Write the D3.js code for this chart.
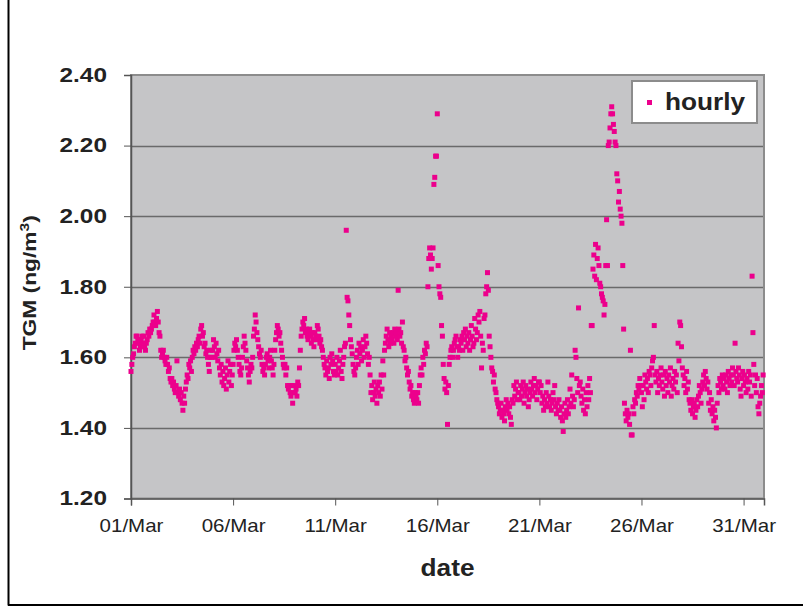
<!DOCTYPE html>
<html>
<head>
<meta charset="utf-8">
<script src="https://cdn.jsdelivr.net/npm/d3@7"></script>
<style>
  html, body { margin: 0; padding: 0; background: #ffffff; }
  svg { display: block; font-family: "Liberation Sans", Arial, Helvetica, sans-serif; }
</style>
</head>
<body>
<svg id="chart" width="803" height="607"></svg>
<script>
// Hourly total gaseous mercury (TGM, ng/m3), one array of 24 hourly values per day of March
const mar01 = [1.56,1.58,1.60,1.61,1.63,1.64,1.66,1.66,1.65,1.64,1.62,1.63,1.65,1.66,1.64,1.66,1.63,1.62,1.64,1.65,1.67,1.66,1.68,1.67];
const mar02 = [1.68,1.69,1.70,1.72,1.70,1.69,1.71,1.73,1.70,1.67,1.66,1.62,1.60,1.61,1.62,1.60,1.59,1.58,1.60,1.58,1.56,1.57,1.54,1.53];
const mar03 = [1.54,1.52,1.53,1.51,1.50,1.52,1.59,1.50,1.49,1.51,1.48,1.50,1.47,1.45,1.49,1.47,1.51,1.53,1.55,1.54,1.58,1.57,1.59,1.56];
const mar04 = [1.60,1.62,1.61,1.63,1.62,1.64,1.63,1.65,1.66,1.64,1.68,1.69,1.66,1.67,1.63,1.64,1.61,1.62,1.60,1.58,1.56,1.60,1.62,1.60];
const mar05 = [1.62,1.65,1.63,1.60,1.64,1.61,1.59,1.62,1.57,1.55,1.58,1.53,1.56,1.52,1.54,1.57,1.51,1.55,1.59,1.53,1.56,1.58,1.52,1.55];
const mar06 = [1.58,1.62,1.64,1.63,1.65,1.62,1.60,1.58,1.56,1.55,1.57,1.60,1.63,1.66,1.64,1.62,1.59,1.57,1.55,1.53,1.56,1.58,1.57,1.60];
const mar07 = [1.66,1.68,1.72,1.70,1.67,1.65,1.63,1.61,1.60,1.62,1.58,1.56,1.57,1.55,1.58,1.60,1.61,1.59,1.57,1.60,1.62,1.59,1.57,1.55];
const mar08 = [1.58,1.62,1.65,1.67,1.69,1.68,1.66,1.67,1.64,1.62,1.60,1.58,1.57,1.58,1.55,1.57,1.52,1.51,1.52,1.50,1.49,1.52,1.47,1.50];
const mar09 = [1.52,1.50,1.51,1.49,1.53,1.52,1.57,1.62,1.66,1.68,1.70,1.69,1.71,1.67,1.68,1.66,1.65,1.67,1.68,1.66,1.64,1.67,1.65,1.63];
const mar10 = [1.67,1.66,1.65,1.69,1.68,1.66,1.64,1.65,1.63,1.62,1.60,1.58,1.57,1.55,1.59,1.56,1.57,1.54,1.60,1.58,1.61,1.59,1.56,1.55];
const mar11 = [1.58,1.56,1.60,1.55,1.57,1.59,1.62,1.56,1.54,1.58,1.60,1.63,1.64,1.96,1.77,1.76,1.72,1.69,1.65,1.63,1.61,1.58,1.56,1.55];
const mar12 = [1.57,1.60,1.62,1.58,1.64,1.61,1.63,1.59,1.62,1.65,1.60,1.63,1.66,1.64,1.61,1.58,1.60,1.55,1.50,1.52,1.48,1.50,1.53,1.49];
const mar13 = [1.51,1.47,1.52,1.50,1.53,1.49,1.55,1.51,1.59,1.55,1.62,1.64,1.66,1.68,1.65,1.63,1.67,1.64,1.66,1.65,1.67,1.64,1.68,1.66];
const mar14 = [1.67,1.65,1.79,1.68,1.66,1.67,1.64,1.70,1.63,1.62,1.59,1.60,1.57,1.55,1.56,1.53,1.51,1.52,1.49,1.50,1.48,1.47,1.50,1.49];
const mar15 = [1.48,1.50,1.47,1.52,1.55,1.57,1.55,1.60,1.58,1.62,1.61,1.64,1.63,1.80,1.88,1.91,1.89,1.85,1.88,1.91,2.09,2.11,2.17,2.17];
const mar16 = [2.29,1.86,1.80,1.78,1.77,1.69,1.66,1.58,1.54,1.51,1.53,1.50,1.41,1.52,1.58,1.60,1.62,1.63,1.60,1.62,1.64,1.65,1.66,1.63];
const mar17 = [1.60,1.63,1.62,1.65,1.64,1.66,1.62,1.67,1.65,1.68,1.63,1.66,1.64,1.67,1.62,1.65,1.69,1.66,1.63,1.64,1.71,1.68,1.65,1.67];
const mar18 = [1.72,1.70,1.73,1.66,1.57,1.64,1.62,1.71,1.72,1.78,1.80,1.84,1.79,1.66,1.63,1.60,1.57,1.56,1.53,1.55,1.51,1.50,1.48,1.47];
const mar19 = [1.46,1.44,1.45,1.47,1.43,1.45,1.44,1.42,1.46,1.48,1.45,1.47,1.44,1.46,1.43,1.41,1.48,1.47,1.52,1.49,1.51,1.53,1.48,1.50];
const mar20 = [1.50,1.48,1.52,1.49,1.51,1.53,1.47,1.50,1.52,1.49,1.51,1.46,1.48,1.50,1.53,1.51,1.49,1.52,1.54,1.50,1.52,1.48,1.51,1.53];
const mar21 = [1.53,1.50,1.52,1.47,1.49,1.45,1.48,1.46,1.50,1.47,1.53,1.49,1.46,1.48,1.45,1.47,1.50,1.48,1.52,1.46,1.44,1.47,1.45,1.48];
const mar22 = [1.45,1.43,1.46,1.42,1.39,1.44,1.47,1.43,1.45,1.48,1.44,1.46,1.51,1.47,1.55,1.49,1.46,1.48,1.62,1.60,1.54,1.50,1.74,1.52];
const mar23 = [1.53,1.49,1.47,1.51,1.45,1.48,1.44,1.50,1.46,1.52,1.48,1.54,1.50,1.69,1.69,1.85,1.89,1.83,1.92,1.82,1.88,1.91,1.86,1.81];
const mar24 = [1.80,1.78,1.77,1.76,1.72,1.75,1.86,1.99,1.86,2.20,2.21,2.25,2.29,2.31,2.29,2.26,2.24,2.21,2.20,2.12,2.10,2.04,2.07,2.02];
const mar25 = [2.00,1.98,1.86,1.68,1.47,1.44,1.42,1.45,1.43,1.44,1.41,1.62,1.38,1.38,1.46,1.44,1.48,1.47,1.50,1.49,1.52,1.51,1.54,1.52];
const mar26 = [1.50,1.46,1.52,1.48,1.55,1.53,1.51,1.54,1.50,1.56,1.55,1.52,1.57,1.59,1.60,1.69,1.55,1.53,1.56,1.50,1.54,1.52,1.55,1.57];
const mar27 = [1.53,1.51,1.55,1.49,1.56,1.52,1.54,1.50,1.55,1.53,1.57,1.49,1.52,1.54,1.51,1.56,1.53,1.55,1.50,1.64,1.59,1.70,1.69,1.63];
const mar28 = [1.57,1.55,1.52,1.54,1.50,1.56,1.51,1.53,1.48,1.47,1.45,1.48,1.44,1.46,1.47,1.43,1.45,1.48,1.46,1.49,1.52,1.50,1.47,1.51];
const mar29 = [1.53,1.55,1.52,1.56,1.54,1.51,1.53,1.47,1.50,1.45,1.48,1.44,1.46,1.42,1.45,1.43,1.40,1.47,1.52,1.50,1.54,1.53,1.51,1.55];
const mar30 = [1.52,1.54,1.51,1.55,1.53,1.50,1.56,1.54,1.52,1.55,1.53,1.57,1.55,1.52,1.64,1.56,1.54,1.53,1.57,1.55,1.51,1.49,1.54,1.56];
const mar31 = [1.52,1.55,1.53,1.50,1.54,1.51,1.56,1.53,1.55,1.49,1.83,1.67,1.58,1.52,1.55,1.50,1.54,1.46,1.44,1.47,1.49,1.52,1.50,1.55];

const marchDays = [mar01, mar02, mar03, mar04, mar05, mar06, mar07, mar08, mar09, mar10,
                   mar11, mar12, mar13, mar14, mar15, mar16, mar17, mar18, mar19, mar20,
                   mar21, mar22, mar23, mar24, mar25, mar26, mar27, mar28, mar29, mar30, mar31];

const yTicks = [1.20, 1.40, 1.60, 1.80, 2.00, 2.20, 2.40];
const xTickDays = [1, 6, 11, 16, 21, 26, 31];
const seriesName = "hourly";
const YEAR = 2006;

// flatten into timestamped hourly records
const records = [];
marchDays.forEach((vals, di) => {
  vals.forEach((v, h) => records.push({ t: new Date(YEAR, 2, di + 1, h), v }));
});

const svg = d3.select("#chart");
const plot = { left: 131, right: 764, top: 75, bottom: 498.5 };
const pink = "#EC008C";
const ink = "#222";
const FONT = "Liberation Sans, Arial, sans-serif";

// outer frame lines
svg.append("line").attr("x1", 8.5).attr("x2", 8.5).attr("y1", 0).attr("y2", 605.5)
  .attr("stroke", "#000").attr("stroke-width", 2);
svg.append("line").attr("x1", 8).attr("x2", 803).attr("y1", 605).attr("y2", 605)
  .attr("stroke", "#000").attr("stroke-width", 2);

const x = d3.scaleTime()
  .domain([new Date(YEAR, 2, 1), new Date(YEAR, 3, 1)])
  .range([plot.left, plot.right]);
const y = d3.scaleLinear().domain([1.2, 2.4]).range([plot.bottom, plot.top]);

// plot area background
svg.append("rect")
  .attr("x", plot.left).attr("y", plot.top)
  .attr("width", plot.right - plot.left).attr("height", plot.bottom - plot.top)
  .attr("fill", "#C5C5C7");

// horizontal gridlines
svg.append("g").selectAll("line")
  .data(yTicks.filter(t => t > 1.2 && t < 2.4))
  .join("line")
  .attr("x1", plot.left).attr("x2", plot.right)
  .attr("y1", d => Math.round(y(d)) + 0.5).attr("y2", d => Math.round(y(d)) + 0.5)
  .attr("stroke", "#6a6a6a").attr("stroke-width", 1.3);

// plot area border
svg.append("rect")
  .attr("x", plot.left).attr("y", plot.top)
  .attr("width", plot.right - plot.left).attr("height", plot.bottom - plot.top)
  .attr("fill", "none").attr("stroke", "#8c8c8c").attr("stroke-width", 2);

// y axis (labels slightly widened, as in the chart's typeface)
const ySX = 1.22;
const yAxis = d3.axisLeft(y).tickValues(yTicks).tickFormat(d3.format(".2f")).tickSizeOuter(0).tickSize(7);
const gy = svg.append("g").attr("transform", `translate(${plot.left},0)`).call(yAxis);
gy.select(".domain").attr("stroke", "#555").attr("stroke-width", 1.5);
gy.selectAll(".tick line").attr("stroke", "#555");
gy.selectAll(".tick text")
  .attr("font-family", FONT).attr("font-size", 20).attr("font-weight", "bold").attr("fill", ink)
  .attr("x", -24 / ySX).attr("transform", `scale(${ySX},1)`);

// x axis
const xSX = 1.14;
const xAxis = d3.axisBottom(x)
  .tickValues(xTickDays.map(d => new Date(YEAR, 2, d)))
  .tickFormat(d3.timeFormat("%d/%b")).tickSizeOuter(0).tickSize(7).tickPadding(14);
const gx = svg.append("g").attr("transform", `translate(0,${plot.bottom})`).call(xAxis);
gx.select(".domain").attr("stroke", "#555").attr("stroke-width", 1.5);
gx.selectAll(".tick line").attr("stroke", "#555");
gx.selectAll(".tick text")
  .attr("font-family", FONT).attr("font-size", 18).attr("fill", ink)
  .attr("transform", `scale(${xSX},1)`);

// hourly markers
const ms = 5;
svg.append("g").selectAll("rect")
  .data(records)
  .join("rect")
  .attr("x", d => x(d.t) - ms / 2)
  .attr("y", d => y(d.v) - ms / 2)
  .attr("width", ms).attr("height", ms)
  .attr("fill", pink);

// axis titles
svg.append("text")
  .attr("transform", `translate(${(plot.left + plot.right) / 2},576) scale(1.14,1)`)
  .attr("text-anchor", "middle").attr("font-size", 23).attr("font-weight", "bold").attr("fill", ink)
  .text("date");

const yt = svg.append("text")
  .attr("transform", `translate(36,${(plot.top + plot.bottom) / 2 - 4}) rotate(-90) scale(1.2,1)`)
  .attr("text-anchor", "middle").attr("font-size", 19).attr("font-weight", "bold").attr("fill", ink);
yt.append("tspan").text("TGM (ng/m");
yt.append("tspan").attr("dy", -7).attr("font-size", 13).text("3");
yt.append("tspan").attr("dy", 7).text(")");

// legend
const lg = svg.append("g");
lg.append("rect").attr("x", 632).attr("y", 81).attr("width", 125).attr("height", 42)
  .attr("fill", "#fff").attr("stroke", "#8c8c8c").attr("stroke-width", 2);
lg.append("rect").attr("x", 647).attr("y", 100).attr("width", ms).attr("height", ms).attr("fill", pink);
lg.append("text").attr("transform", "translate(665,110) scale(1.14,1)")
  .attr("font-size", 23).attr("font-weight", "bold").attr("fill", ink).text(seriesName);
</script>
</body>
</html>
